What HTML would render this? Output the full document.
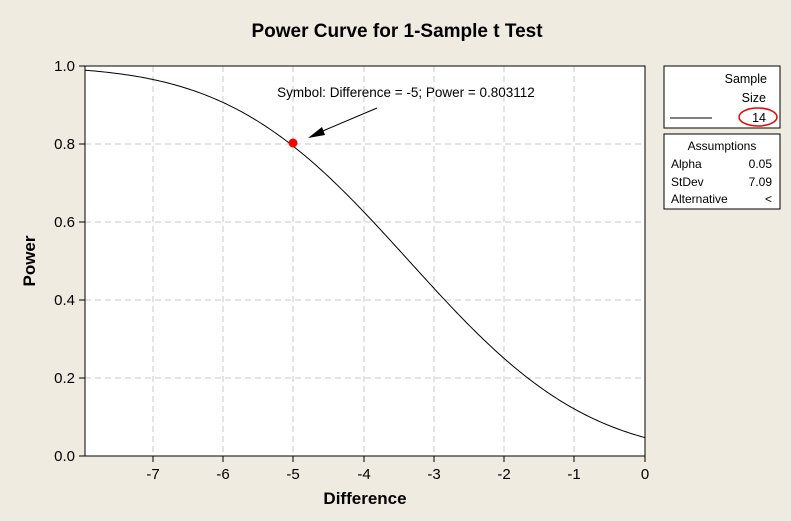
<!DOCTYPE html>
<html><head><meta charset="utf-8"><style>
body{margin:0;background:#efebe1;font-family:"Liberation Sans",sans-serif;}
</style></head><body>
<svg id="s" width="791" height="516" xmlns="http://www.w3.org/2000/svg" font-family="Liberation Sans, sans-serif">
<rect width="791" height="516" fill="#efebe1"/>
<text x="397" y="37" text-anchor="middle" font-size="19" font-weight="bold">Power Curve for 1-Sample t Test</text>
<rect x="85" y="66" width="560" height="390" fill="#fff"/>
<g stroke="#c8c8c8" stroke-dasharray="6,4" stroke-width="1">
<line x1="153" y1="66" x2="153" y2="456"/><line x1="223" y1="66" x2="223" y2="456"/>
<line x1="293" y1="66" x2="293" y2="456"/><line x1="364" y1="66" x2="364" y2="456"/>
<line x1="434" y1="66" x2="434" y2="456"/><line x1="504" y1="66" x2="504" y2="456"/>
<line x1="574" y1="66" x2="574" y2="456"/>
<line x1="85" y1="144" x2="645" y2="144"/><line x1="85" y1="222" x2="645" y2="222"/>
<line x1="85" y1="300" x2="645" y2="300"/><line x1="85" y1="378" x2="645" y2="378"/>
</g>
<rect x="85" y="66" width="560" height="390" fill="none" stroke="#000"/>
<g stroke="#000">
<line x1="79" y1="66" x2="85" y2="66"/><line x1="79" y1="144" x2="85" y2="144"/><line x1="79" y1="222" x2="85" y2="222"/><line x1="79" y1="300" x2="85" y2="300"/><line x1="79" y1="378" x2="85" y2="378"/><line x1="79" y1="456" x2="85" y2="456"/>
<line x1="153" y1="456" x2="153" y2="462"/><line x1="223" y1="456" x2="223" y2="462"/><line x1="293" y1="456" x2="293" y2="462"/><line x1="364" y1="456" x2="364" y2="462"/><line x1="434" y1="456" x2="434" y2="462"/><line x1="504" y1="456" x2="504" y2="462"/><line x1="574" y1="456" x2="574" y2="462"/><line x1="645" y1="456" x2="645" y2="462"/>
</g>
<g font-size="15" text-anchor="end">
<text x="75" y="71">1.0</text><text x="75" y="149">0.8</text><text x="75" y="227">0.6</text><text x="75" y="305">0.4</text><text x="75" y="383">0.2</text><text x="75" y="461">0.0</text>
</g>
<g font-size="15" text-anchor="middle">
<text x="153" y="479">-7</text><text x="223" y="479">-6</text><text x="293" y="479">-5</text><text x="364" y="479">-4</text><text x="434" y="479">-3</text><text x="504" y="479">-2</text><text x="574" y="479">-1</text><text x="645" y="479">0</text>
</g>
<text x="365" y="504" text-anchor="middle" font-size="17" font-weight="bold">Difference</text>
<text transform="translate(35,261) rotate(-90)" text-anchor="middle" font-size="17" font-weight="bold">Power</text>
<path id="c" fill="none" stroke="#000" stroke-width="1"/>
<circle cx="293" cy="143" r="4.5" fill="#f00"/>
<text x="406" y="97" text-anchor="middle" font-size="13.5">Symbol:  Difference = -5; Power = 0.803112</text>
<line x1="377" y1="108" x2="318" y2="133" stroke="#000"/>
<polygon points="308,138 322,127 325,135" fill="#000"/>
<rect x="664" y="66" width="116" height="62" fill="#fff" stroke="#000"/>
<text x="767" y="83" text-anchor="end" font-size="12.5">Sample</text>
<text x="766" y="102" text-anchor="end" font-size="12.5">Size</text>
<line x1="670" y1="118" x2="712" y2="118" stroke="#000"/>
<text x="766" y="122" text-anchor="end" font-size="12.5">14</text>
<ellipse cx="758" cy="117" rx="19" ry="9" fill="none" stroke="#e00" stroke-width="1.5"/>
<rect x="664" y="134" width="116" height="75" fill="#fff" stroke="#000"/>
<text x="722" y="150" text-anchor="middle" font-size="12">Assumptions</text>
<text x="671" y="168" font-size="12">Alpha</text><text x="772" y="168" text-anchor="end" font-size="12">0.05</text>
<text x="671" y="186" font-size="12">StDev</text><text x="772" y="186" text-anchor="end" font-size="12">7.09</text>
<text x="671" y="203" font-size="12">Alternative</text><text x="772" y="203" text-anchor="end" font-size="12">&lt;</text>
</svg>
<script>
function erf(x){var s=x<0?-1:1;x=Math.abs(x);var t=1/(1+0.3275911*x);var y=1-(((((1.061405429*t-1.453152027)*t)+1.421413741)*t-0.284496736)*t+0.254829592)*t*Math.exp(-x*x);return s*y;}
function Phi(z){return 0.5*(1+erf(z/Math.SQRT2));}
var se=7.09/Math.sqrt(14),tc=1.771,den=Math.sqrt(1+tc*tc/26),d="";
for(var px=85;px<=645;px+=2){var x=(px-645)/70.3;var p=Phi((-x/se-tc)/den);var y=456-p*390;d+=(px==85?"M":"L")+px+","+y.toFixed(2);}
document.getElementById("c").setAttribute("d",d);
</script>
</body></html>
